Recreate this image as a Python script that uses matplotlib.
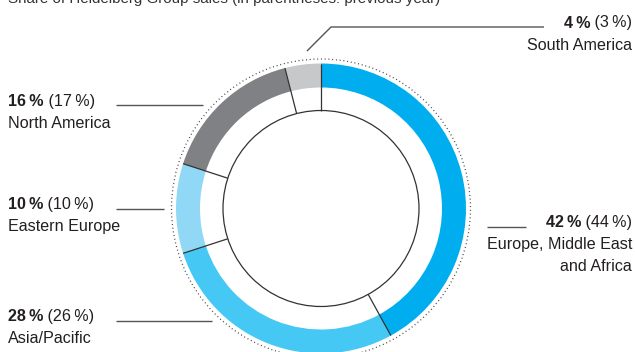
import numpy as np
import matplotlib.pyplot as plt
from matplotlib.patches import Circle

# Share of sales by region, current year and previous year (%)
regions = ['Europe, Middle East\nand Africa', 'Asia/Pacific', 'Eastern Europe',
           'North America', 'South America']
share_now = [42, 28, 10, 16, 4]
share_prev = [44, 26, 10, 17, 3]
ring_colors = ['#00aeef', '#45c8f4', '#91d8f6', '#808184', '#c7c8ca']

TITLE = 'Share of Heidelberg Group sales (in parentheses: previous year)'

TEXT = '#231f20'
LINE = '#555555'
FONT = 'Liberation Sans'
FS = 11.6

W, H = 635, 352
fig = plt.figure(figsize=(W / 100, H / 100), dpi=100)
ax = fig.add_axes([0, 0, 1, 1])

cx, cy = 321, H - 208.5
r_out, ring_w, r_in, r_dot = 145, 24, 98, 149.5

ax.pie(share_now, radius=r_out, center=(cx, cy), startangle=90, counterclock=False,
       colors=ring_colors, wedgeprops=dict(width=ring_w, linewidth=0))

# radial separators between segments
bounds = np.concatenate([[0], np.cumsum(share_now)[:-1]])
for b in bounds:
    a = np.deg2rad(90 - 360 * b / 100)
    ax.plot([cx + r_in * np.cos(a), cx + r_out * np.cos(a)],
            [cy + r_in * np.sin(a), cy + r_out * np.sin(a)],
            color='#333333', lw=0.9, solid_capstyle='butt')

ax.add_patch(Circle((cx, cy), r_in, fill=False, ec='#333333', lw=0.9))
ax.add_patch(Circle((cx, cy), r_dot, fill=False, ec='#444444', lw=0.9,
                    linestyle=(0, (0.8, 2.2))))

ax.set_xlim(0, W)
ax.set_ylim(0, H)
ax.set_aspect('equal')
ax.axis('off')

ax.text(8, H - 3.5, TITLE, fontsize=10.9, family=FONT, color='#333333',
        va='baseline')

renderer = fig.canvas.get_renderer()


def width_px(t):
    return t.get_window_extent(renderer).width


def label(x, y, idx, align):
    """Two-part label: bold share, then previous year in brackets, then region."""
    bold = f'{share_now[idx]}\u2009%'
    reg = f' ({share_prev[idx]}\u2009%)'
    kw = dict(fontsize=FS, family=[FONT, 'DejaVu Sans'], color=TEXT, va='baseline')
    if align == 'left':
        t = ax.text(x, H - y, bold, fontweight='bold', ha='left', **kw)
        ax.text(x + width_px(t), H - y, reg, ha='left', **kw)
    else:
        t = ax.text(x, H - y, reg, ha='right', **kw)
        ax.text(x - width_px(t), H - y, bold, fontweight='bold', ha='right', **kw)
    for k, line in enumerate(regions[idx].split('\n')):
        ax.text(x, H - (y + 22 * (k + 1)), line, ha=align, **kw)


def leader(xs, ys):
    ax.plot(xs, [H - v for v in ys], color=LINE, lw=1.0, solid_capstyle='butt')


label(632, 27.5, 4, 'right')
leader([307, 331, 544], [51, 27, 27])

label(8, 106, 3, 'left')
leader([116, 203], [105, 105])

label(8, 209, 2, 'left')
leader([116, 164], [208.5, 208.5])

label(8, 321, 1, 'left')
leader([116, 212], [320.5, 320.5])

label(632, 227, 0, 'right')
leader([487, 526], [226.5, 226.5])

fig.savefig('out.png', dpi=100)
